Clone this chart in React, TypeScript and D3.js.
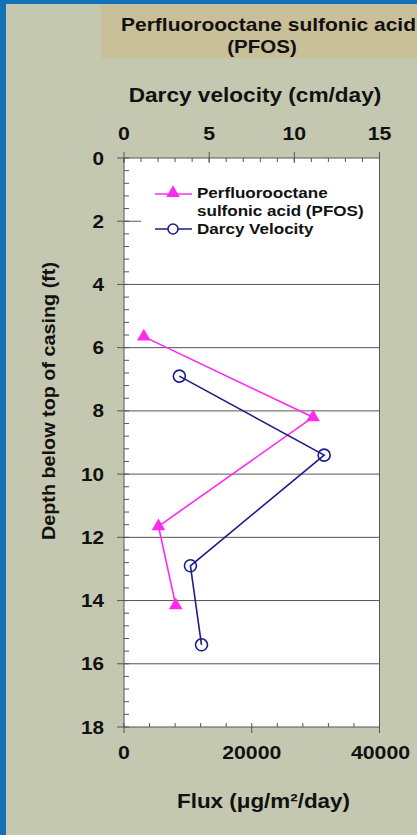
import * as d3 from 'd3'
import React from 'react'

// depth (ft) and values
const pfosDepth = [5.65, 8.2, 11.65, 14.15]
const pfosFlux = [3100, 29600, 5400, 8100]
const darcyDepth = [6.9, 9.4, 12.9, 15.4]
const darcyVelocity = [3.25, 11.75, 3.9, 4.55]

const depthTicks = [0, 2, 4, 6, 8, 10, 12, 14, 16, 18]
const gridDepths = [4, 6, 8, 10, 12, 14, 16]
const velocityTicks = [0, 5, 10, 15]
const fluxTicks = [0, 20000, 40000]

const W = 417
const H = 835
const margin = { left: 124, right: 38, top: 158, bottom: 108 }
const font = 'Liberation Sans, Arial, sans-serif'
const pink = '#ff2af0'
const navy = '#1c1c8a'
const axisColor = '#555'
const ink = '#111'

// the source image is slightly stretched sideways, so text is widened a little
const Label = ({ x, y, size, anchor = 'middle', sx = 1.15, children }: any) => (
  <text
    transform={`translate(${x},${y}) scale(${sx},1)`}
    textAnchor={anchor}
    fontSize={size}
    fill={ink}
  >
    {children}
  </text>
)

const App = () => {
  const x0 = margin.left
  const x1 = W - margin.right + 0.5
  const y0 = margin.top
  const y1 = H - margin.bottom

  const y = d3.scaleLinear().domain([0, 18]).range([y0, y1])
  const xFlux = d3.scaleLinear().domain([0, 40000]).range([x0, x1])
  const xVel = d3.scaleLinear().domain([0, 15]).range([x0, x1])

  const pfos = pfosDepth.map((d, i) => [xFlux(pfosFlux[i]), y(d)] as [number, number])
  const darcy = darcyDepth.map((d, i) => [xVel(darcyVelocity[i]), y(d)] as [number, number])
  const line = d3.line()
  const tri = d3.symbol().type(d3.symbolTriangle).size(80)

  const minorDepth = d3.range(0, 18.01, 0.4)
  const minorVel = d3.range(0, 15.01, 1)
  const minorFlux = d3.range(0, 40001, 4000)

  return (
    <svg
      width={W}
      height={H}
      style={{ position: 'fixed', left: 0, top: 0, display: 'block' }}
      fontFamily={font}
      fontWeight='bold'
    >
      <rect width={W} height={H} fill='#1272b8' />
      <rect x={6} y={4} width={W - 6} height={H - 4} fill='#c5c8b0' />
      <rect x={101} y={4} width={W - 101} height={54} fill='#c9c09a' />
      <text x={121} y={31} fontSize={19} fill={ink} textLength={295} lengthAdjust='spacingAndGlyphs'>
        Perfluorooctane sulfonic acid
      </text>
      <Label x={262} y={53} size={19} sx={1.08}>
        (PFOS)
      </Label>

      <Label x={255} y={102} size={19.5} sx={1.16}>
        Darcy velocity (cm/day)
      </Label>

      {/* plot area */}
      <rect x={x0} y={y0} width={x1 - x0} height={y1 - y0} fill='#fff' />
      {gridDepths.map((d) => (
        <line key={d} x1={x0} x2={x1} y1={y(d)} y2={y(d)} stroke={axisColor} strokeWidth={1} />
      ))}

      {/* legend box hides gridline at 2 */}
      <rect x={141} y={176} width={236} height={66} fill='#fff' />
      <line x1={x0} x2={141} y1={y(2)} y2={y(2)} stroke={axisColor} />

      {/* left axis */}
      {minorDepth.map((d) => (
        <line key={d} x1={x0} x2={x0 + 5} y1={y(d)} y2={y(d)} stroke={axisColor} />
      ))}
      {depthTicks.map((d) => (
        <g key={d}>
          <line x1={x0 - 7} x2={x0} y1={y(d)} y2={y(d)} stroke={axisColor} />
          <Label x={104} y={y(d) + 6.5} size={18} anchor='end'>
            {d}
          </Label>
        </g>
      ))}

      {/* top axis */}
      {minorVel.map((v) => (
        <line key={v} x1={xVel(v)} x2={xVel(v)} y1={y0} y2={y0 + 4} stroke={axisColor} />
      ))}
      {velocityTicks.map((v) => (
        <g key={v}>
          <line x1={xVel(v)} x2={xVel(v)} y1={y0 - 6} y2={y0 + 5} stroke={axisColor} />
          <Label x={xVel(v)} y={140} size={18.5}>
            {v}
          </Label>
        </g>
      ))}

      {/* bottom axis */}
      {minorFlux.map((f) => (
        <line key={f} x1={xFlux(f)} x2={xFlux(f)} y1={y1} y2={y1 - 4} stroke={axisColor} />
      ))}
      {fluxTicks.map((f) => (
        <g key={f}>
          <line x1={xFlux(f)} x2={xFlux(f)} y1={y1} y2={y1 + 6} stroke={axisColor} />
          <Label x={xFlux(f) + (f === 40000 ? 1 : 0)} y={759} size={18.5}>
            {f}
          </Label>
        </g>
      ))}

      <rect x={x0} y={y0} width={x1 - x0} height={y1 - y0} fill='none' stroke={axisColor} />

      {/* series */}
      <path d={line(pfos) || ''} fill='none' stroke={pink} strokeWidth={1.6} />
      {pfos.map(([px, py], i) => (
        <path key={i} d={tri() || ''} transform={`translate(${px},${py})`} fill={pink} />
      ))}
      <path d={line(darcy) || ''} fill='none' stroke={navy} strokeWidth={1.6} />
      {darcy.map(([px, py], i) => (
        <circle key={i} cx={px} cy={py} r={6} fill='none' stroke={navy} strokeWidth={1.6} />
      ))}

      {/* legend */}
      <line x1={155} x2={192} y1={194} y2={194} stroke={pink} strokeWidth={1.6} />
      <path d={tri() || ''} transform='translate(173,193)' fill={pink} />
      <Label x={197} y={198} size={15.5} anchor='start' sx={1.1}>
        Perfluorooctane
      </Label>
      <Label x={197} y={216} size={15.5} anchor='start' sx={1.1}>
        sulfonic acid (PFOS)
      </Label>
      <line x1={155} x2={192} y1={229} y2={229} stroke={navy} strokeWidth={1.6} />
      <circle cx={173} cy={229} r={5} fill='#fff' stroke={navy} strokeWidth={1.6} />
      <Label x={197} y={234} size={15.5} anchor='start' sx={1.1}>
        Darcy Velocity
      </Label>

      <text
        transform='translate(55,401) rotate(-90)'
        textAnchor='middle'
        fontSize={19}
        fill={ink}
        textLength={278}
        lengthAdjust='spacingAndGlyphs'
      >
        Depth below top of casing (ft)
      </text>
      <text x={177} y={808} fontSize={20} fill={ink} textLength={173} lengthAdjust='spacingAndGlyphs'>
        Flux (μg/m²/day)
      </text>
    </svg>
  )
}

export default App
